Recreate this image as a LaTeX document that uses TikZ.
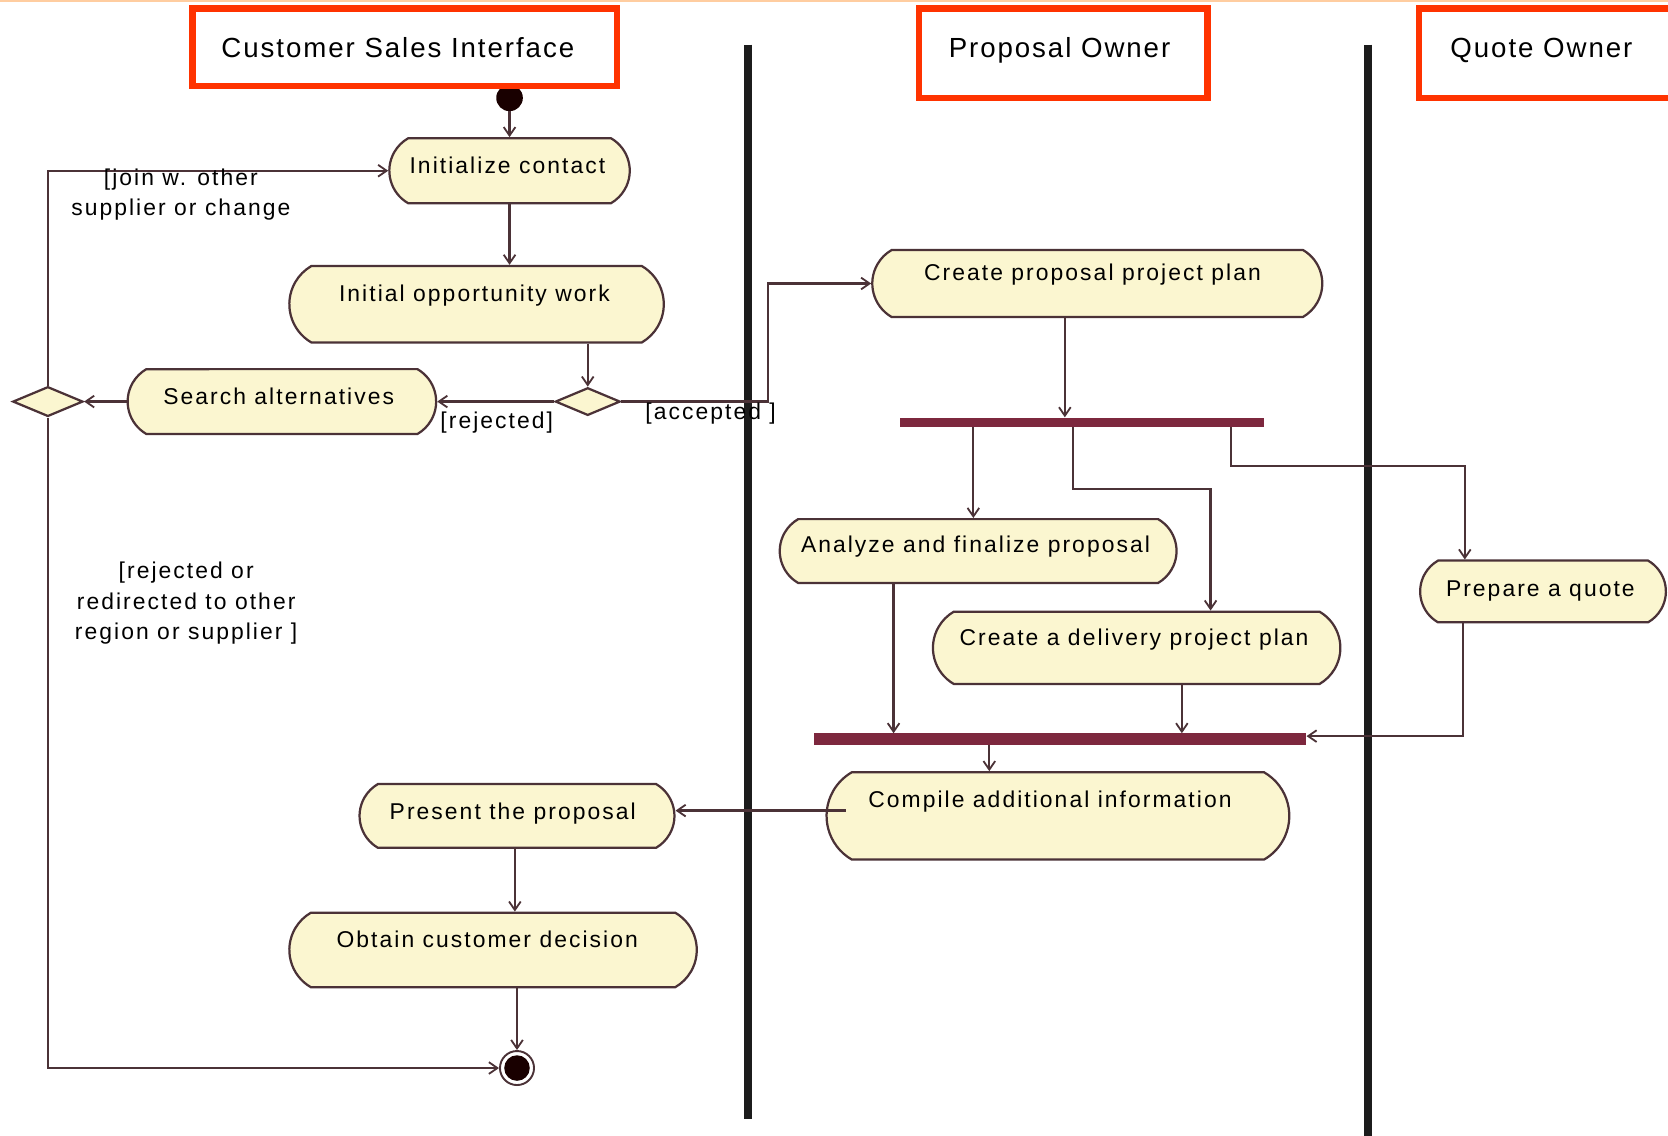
\documentclass[tikz,border=0pt]{standalone}
\usepackage{fontspec}
\setmainfont{Liberation Sans}
\newfontfamily\actfont[LetterSpace=9]{Liberation Sans}
\newfontfamily\hdfont[LetterSpace=7]{Liberation Sans}
\usetikzlibrary{arrows.meta,shapes.misc,shapes.geometric}

\definecolor{lanered}{RGB}{255,51,0}
\definecolor{actfill}{RGB}{251,246,208}
\definecolor{edgecol}{RGB}{75,50,55}
\definecolor{barcol}{RGB}{125,40,62}
\definecolor{topline}{RGB}{255,205,160}
\definecolor{lanecol}{RGB}{28,28,28}

\tikzset{
  act/.style={rounded rectangle, rounded rectangle arc length=120,
    draw=edgecol, line width=2.1pt, fill=actfill, inner sep=0pt},
  acttext/.style={font=\actfont\fontsize{21.5}{28}\selectfont, inner sep=0pt,
    text height=15pt, text depth=0pt},
  guard/.style={font=\actfont\fontsize{21.5}{28.5}\selectfont, inner sep=0pt, align=center},
  header/.style={font=\hdfont\fontsize{26}{30}\selectfont, inner sep=0pt,
    text height=19pt, text depth=0pt},
  hdbox/.style={draw=lanered, line width=6pt, inner sep=0pt},
  decision/.style={diamond, draw=edgecol, line width=2.1pt, fill=actfill, inner sep=0pt},
  syncbar/.style={rectangle, fill=barcol, inner sep=0pt},
  flow/.style={draw=edgecol, line width=2.1pt,
    -{Straight Barb[length=8pt,width=11pt,line width=1.7pt]}},
  lane/.style={draw=lanecol, line width=7pt},
}

\begin{document}
\begin{tikzpicture}[x=1pt,y=-1pt]
\useasboundingbox[fill=white] (0,0) rectangle (1568,1067);

% thin rule along the top edge
\draw[topline, line width=2.5pt] (0,1) -- (1568,1);

% swimlane separators
\draw[lane] (703,42) -- (703,1052);
\draw[lane] (1286,42) -- (1286,1070);

% initial node (drawn before the lane header so the header edge overlaps it)
\node[circle, fill=black!90!red, minimum size=25pt, inner sep=0pt] (init) at (479,92) {};

% lane headers
\node[hdbox, minimum width=399pt, minimum height=73pt] (hcsi) at (380.5,44.5) {};
\node[header] (hcsi-t) at (374,45) {Customer Sales Interface};
\node[hdbox, minimum width=271pt, minimum height=84pt] (hpo) at (999.5,50) {};
\node[header] (hpo-t) at (996,45) {Proposal Owner};
\node[hdbox, minimum width=300pt, minimum height=84pt] (hqo) at (1484,50) {};
\node[header] (hqo-t) at (1449,45) {Quote Owner};

% activities
\node[act, minimum width=226pt, minimum height=61pt] (ic)  at (479,160.5) {};
\node[acttext] (ic-t) at (477,156) {Initialize contact};
\node[act, minimum width=352pt, minimum height=72pt] (iow) at (448,286) {};
\node[acttext] (iow-t) at (446,276) {Initial opportunity work};
\node[act, minimum width=290pt, minimum height=61pt] (sa)  at (265,377.5) {};
\node[acttext] (sa-t) at (262,373) {Search alternatives};
\node[act, minimum width=423pt, minimum height=63pt] (cpp) at (1031.5,266.5) {};
\node[acttext] (cpp-t) at (1027,256) {Create proposal project plan};
\node[act, minimum width=373pt, minimum height=60pt] (an)  at (919.5,518) {};
\node[acttext] (an-t) at (917,512) {Analyze and finalize proposal};
\node[act, minimum width=383pt, minimum height=68pt] (cd)  at (1068.5,609) {};
\node[acttext] (cd-t) at (1066,599) {Create a delivery project plan};
\node[act, minimum width=231pt, minimum height=58pt] (pq)  at (1450.5,556) {};
\node[acttext] (pq-t) at (1448,553) {Prepare a quote};
\node[act, minimum width=435pt, minimum height=82pt] (cp)  at (994.5,767) {};
\node[acttext] (cp-t) at (987,752) {Compile additional information};
\node[act, minimum width=296pt, minimum height=60pt] (pp)  at (486,767) {};
\node[acttext] (pp-t) at (482,763) {Present the proposal};
\node[act, minimum width=383pt, minimum height=70pt] (ob)  at (463.5,893) {};
\node[acttext] (ob-t) at (458,883) {Obtain customer decision};

% decisions
\node[decision, minimum width=61pt, minimum height=26pt] (d1) at (552.5,377.5) {};
\node[decision, minimum width=66pt, minimum height=28pt] (d2) at (45,377.5) {};

% fork and join bars
\node[syncbar, minimum width=342pt, minimum height=9pt]  (fork) at (1017,397) {};
\node[syncbar, minimum width=463pt, minimum height=11pt] (join) at (996.5,695) {};

% final node
\node[circle, draw=edgecol, line width=1.8pt, fill=white, minimum size=32pt, inner sep=0pt] (final) at (486,1004) {};
\node[circle, fill=black!90!red, minimum size=24pt, inner sep=0pt] (final-core) at (final.center) {};

% routing points
\coordinate (acc) at (722,377.5);
\coordinate (x1001) at (1001,0);
\coordinate (x915) at (915,0);
\coordinate (x840) at (840,0);
\coordinate (x1111) at (1111,0);
\coordinate (x930) at (930,0);
\coordinate (x484) at (484,0);
\coordinate (f2a) at (1009,460);
\coordinate (f2b) at (1138,460);
\coordinate (f3a) at (1157,438);
\coordinate (f3b) at (1377,438);
\coordinate (j3) at (1375,692);
\coordinate (c1) at (795,762);

% transitions
\draw[flow] (init) -- (ic);
\draw[flow] (ic.south) -- (ic.south |- iow.north);
\draw[flow] (d1 |- iow.south) -- (d1.north);
\draw[flow] (d1.west) -- (sa.east);
\draw[flow] (d1.east) -- (acc) -- (acc |- cpp.west) -- (cpp.west);
\draw[flow] (sa.west) -- (d2.east);
\draw[flow] (d2.north) |- (ic.west);
\draw[flow] (d2.south) |- (final.west);
\draw[flow] (x1001 |- cpp.south) -- (x1001 |- fork.north);
\draw[flow] (x915 |- fork.south) -- (x915 |- an.north);
\draw[flow] (fork.south -| f2a) -- (f2a) -- (f2b) -- (f2b |- cd.north);
\draw[flow] (fork.south -| f3a) -- (f3a) -- (f3b) -- (f3b |- pq.north);
\draw[flow] (x840 |- an.south) -- (x840 |- join.north);
\draw[flow] (x1111 |- cd.south) -- (x1111 |- join.north);
\draw[flow] (pq.south -| j3) -- (j3) -- (j3 -| join.east);
\draw[flow] (x930 |- join.south) -- (x930 |- cp.north);
\draw[flow] (c1) -- (c1 -| pp.east);
\draw[flow] (x484 |- pp.south) -- (x484 |- ob.north);
\draw[flow] (final |- ob.south) -- (final.north);

% guard labels
\node[guard] (g-rej) at (467,397) {[rejected]};
\node[guard] (g-acc) at (668,389) {[accepted ]};
\node[guard] (g-join) at (170,183) {[join w. other\\supplier or change};
\node[guard] (g-redir) at (175,567) {[rejected or\\redirected to other\\region or supplier ]};
\end{tikzpicture}
\end{document}
